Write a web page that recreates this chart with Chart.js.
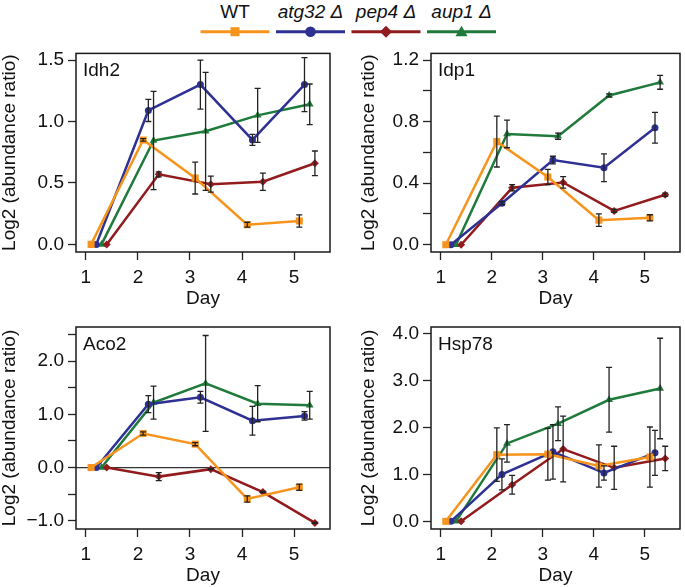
<!DOCTYPE html>
<html lang="en">
<head>
<meta charset="UTF-8">
<title>Log2 abundance ratio by day</title>
<style>
  body { margin: 0; background: #fff; font-family: "Liberation Sans", Arial, sans-serif; }
  #wrap { position: relative; width: 685px; height: 587px; overflow: hidden; }
  #legend { position: absolute; left: 0; top: 0; }
  canvas { position: absolute; }
</style>
<script src="https://cdn.jsdelivr.net/npm/chart.js"></script>
</head>
<body>
<div id="wrap">
  <svg id="legend" width="685" height="40"></svg>
  <canvas id="c1" width="342" height="272" style="left:0;top:38px"></canvas>
  <canvas id="c2" width="326" height="272" style="left:359px;top:38px"></canvas>
  <canvas id="c3" width="342" height="277" style="left:0;top:310px"></canvas>
  <canvas id="c4" width="326" height="277" style="left:359px;top:310px"></canvas>
</div>

<script>
    // days and the small dodge each strain gets on the x axis
    const days = [1, 2, 3, 4, 5];
    const strains = ['WT', 'atg32 \u0394', 'pep4 \u0394', 'aup1 \u0394'];
    const dodge = [0.1, 0.2, 0.4, 0.3];

    // Idh2
    const idh2WT = [0, 0.85, 0.54, 0.16, 0.19];
    const idh2WTErr = [0, 0.01, 0.13, 0.02, 0.05];
    const idh2Atg = [0, 1.09, 1.30, 0.85, 1.30];
    const idh2AtgErr = [0, 0.09, 0.20, 0.045, 0.22];
    const idh2Pep = [0, 0.57, 0.49, 0.51, 0.66];
    const idh2PepErr = [0, 0.02, 0.065, 0.07, 0.10];
    const idh2Aup = [0, 0.845, 0.92, 1.05, 1.14];
    const idh2AupErr = [0, 0.40, 0.48, 0.22, 0.165];

    // Idp1
    const idp1WT = [0, 0.67, 0.44, 0.16, 0.175];
    const idp1WTErr = [0, 0.165, 0.05, 0.04, 0.02];
    const idp1Atg = [0, 0.27, 0.55, 0.50, 0.76];
    const idp1AtgErr = [0, 0.01, 0.025, 0.09, 0.10];
    const idp1Pep = [0, 0.37, 0.405, 0.22, 0.325];
    const idp1PepErr = [0, 0.02, 0.037, 0.01, 0.01];
    const idp1Aup = [0, 0.72, 0.705, 0.97, 1.055];
    const idp1AupErr = [0, 0.09, 0.02, 0.01, 0.045];

    // Aco2
    const aco2WT = [0, 0.64, 0.44, -0.59, -0.37];
    const aco2WTErr = [0, 0.03, 0.03, 0.06, 0.06];
    const aco2Atg = [0, 1.19, 1.32, 0.88, 0.97];
    const aco2AtgErr = [0, 0.16, 0.11, 0.27, 0.08];
    const aco2Pep = [0, -0.17, -0.03, -0.46, -1.04];
    const aco2PepErr = [0, 0.075, 0.01, 0.01, 0.01];
    const aco2Aup = [0, 1.22, 1.58, 1.20, 1.17];
    const aco2AupErr = [0, 0.31, 0.90, 0.34, 0.26];

    // Hsp78
    const hspWT = [0, 1.42, 1.43, 1.18, 1.37];
    const hspWTErr = [0, 0.57, 0.55, 0.45, 0.64];
    const hspAtg = [0, 1.0, 1.48, 1.03, 1.46];
    const hspAtgErr = [0, 0.33, 0.58, 0.15, 0.48];
    const hspPep = [0, 0.78, 1.54, 1.14, 1.34];
    const hspPepErr = [0, 0.2, 0.7, 0.46, 0.26];
    const hspAup = [0, 1.66, 2.08, 2.59, 2.83];
    const hspAupErr = [0, 0.4, 0.36, 0.69, 1.07];

    // y ticks (all drawn) and the ones that get a label
    const idh2Ticks = [0, 0.5, 1, 1.5];
    const idp1Ticks = [0, 0.2, 0.4, 0.6, 0.8, 1.0, 1.2];
    const idp1Labeled = [0, 0.4, 0.8, 1.2];
    const aco2Ticks = [-1, -0.5, 0, 0.5, 1, 1.5, 2, 2.5];
    const aco2Labeled = [-1, 0, 1, 2];
    const hspTicks = [0, 1, 2, 3, 4];

    const colors = ['#F7941D', '#2E3192', '#921B1E', '#1F7A3C'];
    const shapes = ['rect', 'circle', 'rectRot', 'triangle'];
    const radii = [5, 3.5, 4, 4.5];
    const FONT = '"Liberation Sans", Arial, sans-serif';
    const INK = '#111';

    function fmt(v) {
        return (v < 0 ? '\u2212' : '') + Math.abs(v).toFixed(1);
    }

    // error bars, zero line, frame and panel name
    const decor = {
        id: 'decor',
        beforeDatasetsDraw(chart, args, opts) {
            if (!opts.zeroLine) return;
            const { ctx, chartArea: a, scales: { y } } = chart;
            const py = y.getPixelForValue(0);
            ctx.save();
            ctx.strokeStyle = '#333';
            ctx.lineWidth = 1.2;
            ctx.beginPath();
            ctx.moveTo(a.left, py);
            ctx.lineTo(a.right, py);
            ctx.stroke();
            ctx.restore();
        },
        afterDatasetsDraw(chart, args, opts) {
            const { ctx, chartArea: a, scales: { x, y } } = chart;
            ctx.save();
            ctx.strokeStyle = '#222';
            ctx.lineWidth = 1.3;
            chart.data.datasets.forEach(ds => {
                ds.data.forEach((p, i) => {
                    const e = ds.errors[i];
                    if (!e) return;
                    const px = x.getPixelForValue(p.x);
                    const y1 = y.getPixelForValue(p.y - e);
                    const y2 = y.getPixelForValue(p.y + e);
                    ctx.beginPath();
                    ctx.moveTo(px, y1); ctx.lineTo(px, y2);
                    ctx.moveTo(px - 3, y1); ctx.lineTo(px + 3, y1);
                    ctx.moveTo(px - 3, y2); ctx.lineTo(px + 3, y2);
                    ctx.stroke();
                });
            });
            ctx.strokeStyle = '#1a1a1a';
            ctx.lineWidth = 1.5;
            ctx.strokeRect(a.left, a.top, a.right - a.left, a.bottom - a.top);
            ctx.fillStyle = INK;
            ctx.font = '19px ' + FONT;
            ctx.textAlign = 'left';
            ctx.textBaseline = 'alphabetic';
            ctx.fillText(opts.label, a.left + 7, a.top + 23);
            ctx.restore();
        }
    };

    function makePanel(id, label, values, errors, yMin, yMax, yTicks, yLabeled, yWidth, padTop, padRight, zeroLine) {
        const datasets = values.map((vals, s) => ({
            label: strains[s],
            data: vals.map((v, i) => ({ x: days[i] + dodge[s], y: v })),
            errors: errors[s],
            borderColor: colors[s],
            backgroundColor: colors[s],
            borderWidth: 2.5,
            pointStyle: shapes[s],
            pointRadius: radii[s],
            pointBorderWidth: 0,
            tension: 0
        }));
        const near = (list, v) => list.some(t => Math.abs(t - v) < 1e-6);
        return new Chart(document.getElementById(id), {
            type: 'line',
            data: { datasets },
            plugins: [decor],
            options: {
                responsive: false,
                animation: false,
                events: [],
                layout: { padding: { top: padTop, right: padRight, left: 0, bottom: 0 } },
                plugins: {
                    legend: { display: false },
                    tooltip: { enabled: false },
                    decor: { label, zeroLine }
                },
                scales: {
                    x: {
                        type: 'linear',
                        min: 0.81,
                        max: 5.69,
                        afterBuildTicks: s => { s.ticks = days.map(v => ({ value: v })); },
                        afterFit: s => { s.height = 58; },
                        grid: { drawOnChartArea: false, tickLength: 8, tickColor: '#222', tickWidth: 1.3 },
                        border: { display: false },
                        ticks: { color: INK, font: { family: FONT, size: 19 }, padding: 6, maxRotation: 0, autoSkip: false },
                        title: { display: true, text: 'Day', color: INK, font: { family: FONT, size: 19, lineHeight: 1 }, padding: { top: 0, bottom: 2 } }
                    },
                    y: {
                        min: yMin,
                        max: yMax,
                        afterBuildTicks: s => { s.ticks = yTicks.map(v => ({ value: v })); },
                        afterFit: s => { s.width = yWidth; },
                        grid: { drawOnChartArea: false, tickLength: 8, tickColor: '#222', tickWidth: 1.3 },
                        border: { display: false },
                        ticks: {
                            color: INK,
                            font: { family: FONT, size: 19 },
                            padding: 4,
                            autoSkip: false,
                            callback: v => near(yLabeled, v) ? fmt(v) : ''
                        },
                        title: { display: true, text: 'Log2 (abundance ratio)', color: INK, font: { family: FONT, size: 19, lineHeight: 1 }, padding: { top: 0, bottom: 0 } }
                    }
                }
            }
        });
    }

    makePanel('c1', 'Idh2',
        [idh2WT, idh2Atg, idh2Pep, idh2Aup], [idh2WTErr, idh2AtgErr, idh2PepErr, idh2AupErr],
        -0.062, 1.554, idh2Ticks, idh2Ticks, 76, 12, 12, false);
    makePanel('c2', 'Idp1',
        [idp1WT, idp1Atg, idp1Pep, idp1Aup], [idp1WTErr, idp1AtgErr, idp1PepErr, idp1AupErr],
        -0.047, 1.243, idp1Ticks, idp1Labeled, 72, 11.5, 2, false);
    makePanel('c3', 'Aco2',
        [aco2WT, aco2Atg, aco2Pep, aco2Aup], [aco2WTErr, aco2AtgErr, aco2PepErr, aco2AupErr],
        -1.154, 2.64, aco2Ticks, aco2Labeled, 76, 17, 12, true);
    makePanel('c4', 'Hsp78',
        [hspWT, hspAtg, hspPep, hspAup], [hspWTErr, hspAtgErr, hspPepErr, hspAupErr],
        -0.163, 4.14, hspTicks, hspTicks, 72, 17, 2, false);

    // shared legend across the top
    const legendX = [235, 310.5, 386, 461.5];
    const svg = document.getElementById('legend');
    const NS = 'http://www.w3.org/2000/svg';
    function el(tag, attrs) {
        const e = document.createElementNS(NS, tag);
        for (const k in attrs) e.setAttribute(k, attrs[k]);
        svg.appendChild(e);
        return e;
    }
    strains.forEach((name, s) => {
        const cx = legendX[s], cy = 31.7;
        const t = el('text', {
            x: cx, y: 18.3, 'text-anchor': 'middle', fill: INK,
            'font-family': 'Liberation Sans, Arial, sans-serif', 'font-size': 19,
            'font-style': s === 0 ? 'normal' : 'italic'
        });
        t.textContent = name;
        el('line', { x1: cx - 34.5, y1: cy, x2: cx + 34.5, y2: cy, stroke: colors[s], 'stroke-width': 3 });
        if (s === 0) el('rect', { x: cx - 4.5, y: cy - 4.5, width: 9, height: 9, fill: colors[s] });
        if (s === 1) el('circle', { cx: cx, cy: cy, r: 5.3, fill: colors[s] });
        if (s === 2) el('polygon', { points: `${cx},${cy - 6} ${cx + 6},${cy} ${cx},${cy + 6} ${cx - 6},${cy}`, fill: colors[s] });
        if (s === 3) el('polygon', { points: `${cx},${cy - 6} ${cx + 6},${cy + 4.5} ${cx - 6},${cy + 4.5}`, fill: colors[s] });
    });
</script>
</body>
</html>
